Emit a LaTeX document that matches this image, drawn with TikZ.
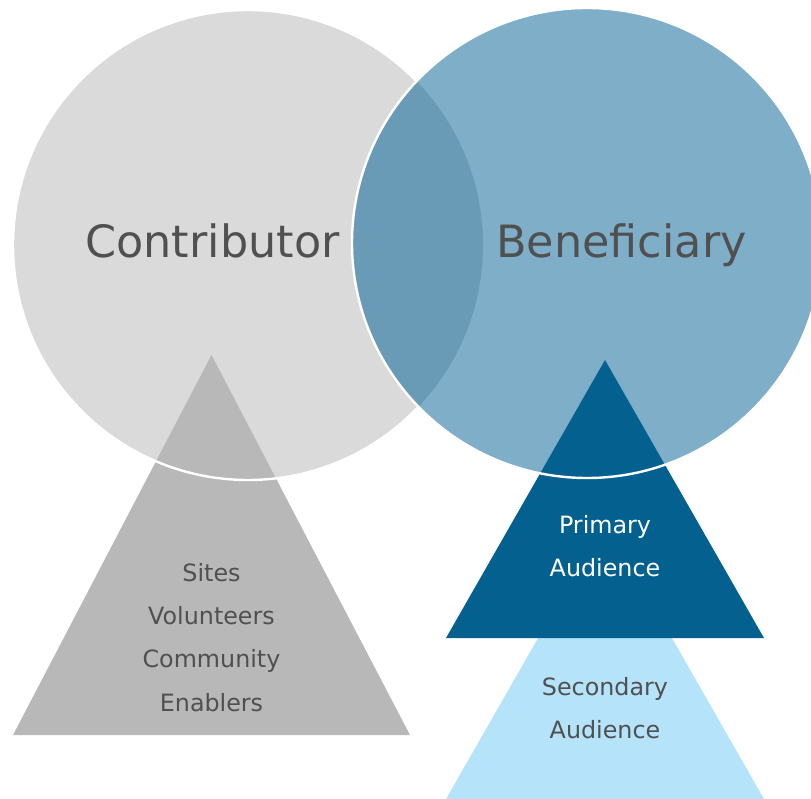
\documentclass[tikz,border=0pt]{standalone}
\usepackage{fontspec}
\setmainfont{DejaVu Sans}
\definecolor{contribfill}{HTML}{DADADA}
\definecolor{contribtri}{HTML}{B8B8B8}
\definecolor{benefill}{HTML}{7FAEC9}
\definecolor{lensfill}{HTML}{6A9BB6}
\definecolor{primfill}{HTML}{03608F}
\definecolor{secfill}{HTML}{B5E4FA}
\definecolor{labeltext}{HTML}{505050}
\begin{document}
\begin{tikzpicture}[x=1pt,y=-1pt,
  bigtitle/.style={anchor=base,inner sep=0pt,text=labeltext,font=\fontsize{44.5}{53}\selectfont},
  smalltext/.style={anchor=base,inner sep=0pt,text=labeltext,font=\fontsize{23.8}{28}\selectfont},
  whitetext/.style={smalltext,text=white},
  rim/.style={draw=white,line width=2.4pt}]
\useasboundingbox (0,0) rectangle (811,799);

% circle centres
\coordinate (cL) at (248,245);
\coordinate (cR) at (587,243);

% contributor circle and its triangle
\fill[contribfill] (cL) circle[radius=235pt];
\fill[contribtri] (211.5,355) -- (410,735) -- (13,735) -- cycle;
\draw[rim] (cL) circle[radius=235pt];

% beneficiary circle with the shared lens
\fill[benefill] (cR) circle[radius=235pt];
\begin{scope}
  \clip (cL) circle[radius=235pt];
  \fill[lensfill] (cR) circle[radius=235pt];
\end{scope}

% audience triangles
\fill[secfill] (605,521) -- (764,799) -- (446,799) -- cycle;
\fill[primfill] (605,360) -- (764,638) -- (446,638) -- cycle;
\draw[rim] (cR) circle[radius=235pt];

% labels
\node[bigtitle] (contributor) at (212.5,258) {Contributor};
\node[bigtitle] (beneficiary) at (621.5,258) {Beneficiary};

\node[smalltext] (sites) at (211.5,581) {Sites};
\node[smalltext] (volunteers) at (211.5,624) {Volunteers};
\node[smalltext] (community) at (211.5,667.5) {Community};
\node[smalltext] (enablers) at (211.5,711) {Enablers};

\node[whitetext] (primary) at (605,533) {Primary};
\node[whitetext] (primaud) at (605,576) {Audience};
\node[smalltext] (secondary) at (605,695) {Secondary};
\node[smalltext] (secaud) at (605,738) {Audience};
\end{tikzpicture}
\end{document}
